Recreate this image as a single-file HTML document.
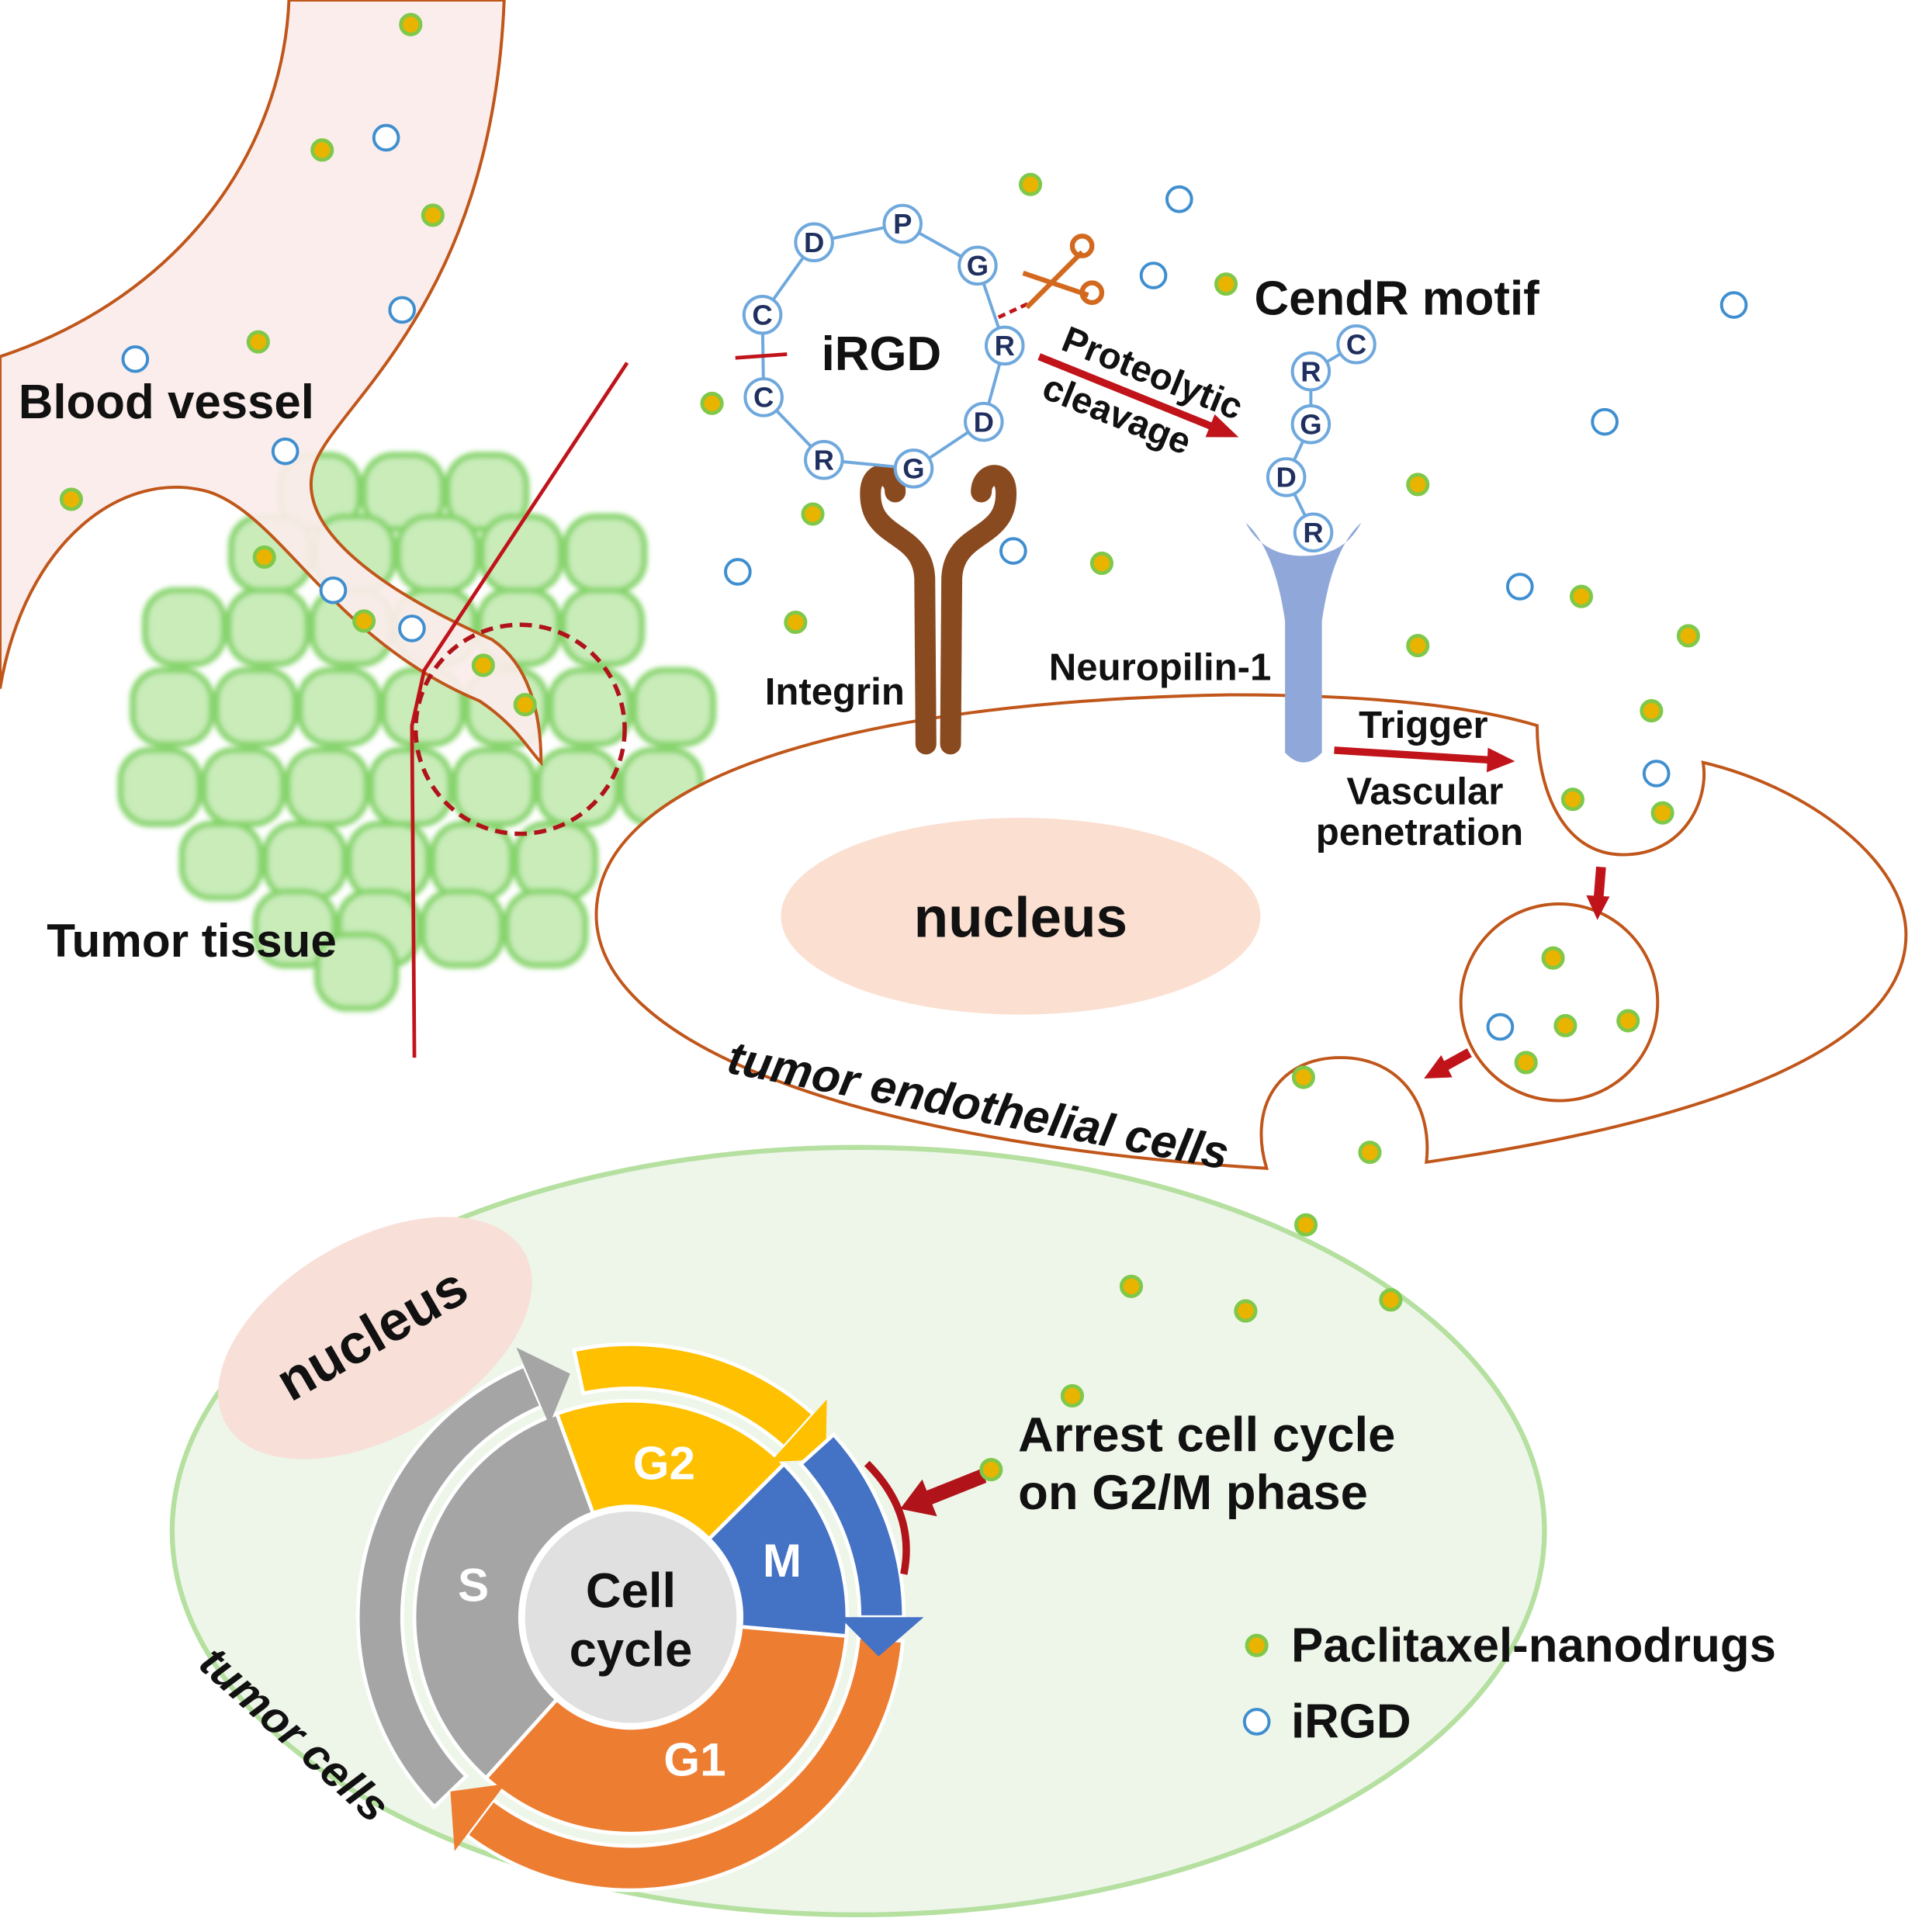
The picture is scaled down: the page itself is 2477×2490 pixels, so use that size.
<!DOCTYPE html>
<html><head><meta charset="utf-8"><style>
html,body{margin:0;padding:0;background:#fff;}
svg{display:block;}
text{font-family:"Liberation Sans",Arial,sans-serif;font-weight:bold;fill:#111;}
</style></head><body>
<svg id="s" width="2477" height="2490" viewBox="0 0 1563 1571" preserveAspectRatio="none" xmlns="http://www.w3.org/2000/svg">
<defs>
<filter id="bl" x="-20%" y="-20%" width="140%" height="140%"><feGaussianBlur stdDeviation="2"/></filter>
</defs>
<rect width="1563" height="1571" fill="#fff"/>
<g id="tumor" filter="url(#bl)"></g>
<path d="M235,0 C230,120 150,240 0,290 L0,560 C20,440 100,380 170,400 C230,420 270,520 390,570 C420,590 430,610 440,620 C440,580 430,540 400,520 C310,480 240,430 255,380 C270,330 400,250 410,0 Z" fill="#fbecea" fill-opacity="0.92" stroke="#c0561a" stroke-width="2.5"/>
<polyline points="510,295 345,545 335,590 337,860" fill="none" stroke="#c0141a" stroke-width="3"/>
<circle cx="423" cy="593" r="85" fill="none" stroke="#b0141a" stroke-width="3.5" stroke-dasharray="10,6"/>
<text x="15" y="340" font-size="39">Blood vessel</text>
<text x="38" y="778" font-size="38">Tumor tissue</text>

<!-- endothelial cell -->
<path d="M1030,950 C700,930 480,850 485,740 C490,630 700,570 1000,565 C1120,565 1200,575 1250,590 C1250,640 1270,695 1320,695 C1370,695 1390,650 1385,620 C1470,640 1550,700 1550,760 C1550,850 1400,910 1160,945 C1165,900 1140,860 1090,860 C1040,860 1015,900 1030,950 Z" fill="#fff" stroke="#c0561a" stroke-width="2.5"/>
<circle cx="1268" cy="815" r="80" fill="#fff" stroke="#c0561a" stroke-width="2.5"/>
<ellipse cx="830" cy="745" rx="195" ry="80" fill="#fbe0d2"/>
<text x="830" y="762" font-size="46" text-anchor="middle">nucleus</text>
<text x="590" y="872" font-size="38" font-style="italic" transform="rotate(11 590 872)">tumor endothelial cells</text>

<!-- integrin -->
<g fill="none" stroke="#8a4a1f" stroke-width="17" stroke-linecap="round">
<path d="M753,605 L752,470 C750,430 705,440 708,398 C710,380 728,385 728,400"/>
<path d="M773,605 L774,470 C776,430 821,440 818,398 C816,380 798,385 798,400"/>
</g>
<path d="M1013,425 C1030,440 1040,470 1045,505 L1045,612 Q1060,628 1075,612 L1075,505 C1080,470 1090,440 1107,425 C1095,448 1075,452 1060,452 C1045,452 1025,448 1013,425 Z" fill="#8fa8d9"/>
<text x="622" y="573" font-size="31">Integrin</text>
<text x="853" y="553" font-size="31">Neuropilin-1</text>
<text x="1020" y="256" font-size="39">CendR motif</text>
<text x="668" y="301" font-size="39">iRGD</text>
<g id="ring"></g>
<line x1="598" y1="291" x2="640" y2="288" stroke="#c0141a" stroke-width="3"/>
<line x1="812" y1="258" x2="838" y2="246" stroke="#c0141a" stroke-width="3" stroke-dasharray="6,4"/>
<!-- scissors -->
<g stroke="#d2691e" stroke-width="4" fill="none">
<line x1="832" y1="222" x2="885" y2="240"/><line x1="835" y1="250" x2="880" y2="205"/>
<circle cx="888" cy="238" r="8"/><circle cx="880" cy="200" r="8"/>
</g>
<g transform="rotate(22 845 290)">
<line x1="845" y1="290" x2="1000" y2="290" stroke="#c0141a" stroke-width="6"/>
<polygon points="995,280 1020,290 995,300" fill="#c0141a"/>
<text x="858" y="278" font-size="30">Proteolytic</text>
<text x="858" y="320" font-size="30">cleavage</text>
</g>
<line x1="1085" y1="610" x2="1212" y2="618" stroke="#c0141a" stroke-width="6"/>
<polygon points="1210,608 1232,619 1209,628" fill="#c0141a"/>
<text x="1105" y="600" font-size="31">Trigger</text>
<text x="1095" y="654" font-size="31">Vascular</text>
<text x="1070" y="687" font-size="31">penetration</text>
<line x1="1302" y1="705" x2="1300" y2="730" stroke="#c0141a" stroke-width="8"/>
<polygon points="1290,728 1299,748 1309,729" fill="#c0141a"/>
<line x1="1195" y1="856" x2="1175" y2="867" stroke="#c0141a" stroke-width="8"/>
<polygon points="1172,858 1158,877 1181,876" fill="#c0141a"/>

<!-- tumor cell -->
<ellipse cx="698" cy="1245" rx="558" ry="312" fill="#eef6ea" stroke="#b5e0a0" stroke-width="4"/>
<ellipse cx="305" cy="1088" rx="140" ry="80" transform="rotate(-30 305 1088)" fill="#f8e0d8"/>
<text x="310" y="1098" font-size="45" text-anchor="middle" transform="rotate(-30 310 1098)">nucleus</text>
<text x="160" y="1355" font-size="36" font-style="italic" transform="rotate(42 160 1355)">tumor cells</text>
<g id="cc"></g>
<circle cx="513" cy="1315" r="88" fill="#e0e0e0" stroke="#fff" stroke-width="4"/>
<text x="513" y="1307" font-size="40" text-anchor="middle">Cell</text>
<text x="513" y="1355" font-size="40" text-anchor="middle">cycle</text>
<text x="540" y="1203" font-size="38" text-anchor="middle" style="fill:#fff">G2</text>
<text x="636" y="1282" font-size="38" text-anchor="middle" style="fill:#fff">M</text>
<text x="385" y="1302" font-size="38" text-anchor="middle" style="fill:#fff">S</text>
<text x="565" y="1444" font-size="38" text-anchor="middle" style="fill:#fff">G1</text>
<path d="M705,1190 Q745,1230 735,1280" fill="none" stroke="#b0141a" stroke-width="6"/>
<line x1="800" y1="1200" x2="755" y2="1218" stroke="#b0141a" stroke-width="12"/>
<polygon points="750,1203 732,1227 762,1233" fill="#b0141a"/>
<text x="828" y="1180" font-size="40">Arrest cell cycle</text>
<text x="828" y="1227" font-size="40">on G2/M phase</text>
<text x="1050" y="1351" font-size="39">Paclitaxel-nanodrugs</text>
<text x="1050" y="1413" font-size="39">iRGD</text>
<g id="dots"></g>
</svg>
<script>
var NS="http://www.w3.org/2000/svg";
function el(p,t,a){var e=document.createElementNS(NS,t);for(var k in a)e.setAttribute(k,a[k]);p.appendChild(e);return e;}
var tg=document.getElementById('tumor');
var rows=[[400,260,440],[450,200,500],[510,150,540],[575,120,550],[640,130,540],[700,160,510],[755,240,470],[790,270,320]];
rows.forEach(function(r,i){for(var x=r[1]+(i%2)*20;x<=r[2];x+=68){el(tg,'rect',{x:x-32,y:r[0]-30,width:64,height:60,rx:24,fill:'#c9ecb9',stroke:'#86d46c','stroke-width':5});}});
var rg=document.getElementById('ring');
var ring=[['D',662,197],['P',734,182],['G',795,216],['R',817,281],['D',800,343],['G',743,381],['R',670,374],['C',621,323],['C',620,256]];
for(var i=0;i<ring.length;i++){var a=ring[i],b=ring[(i+1)%ring.length];el(rg,'line',{x1:a[1],y1:a[2],x2:b[1],y2:b[2],stroke:'#6fa8dc','stroke-width':2.5});}
var cendr=[['C',1103,280],['R',1066,302],['G',1066,345],['D',1046,388],['R',1068,433]];
for(var i=0;i<cendr.length-1;i++){var a=cendr[i],b=cendr[i+1];el(rg,'line',{x1:a[1],y1:a[2],x2:b[1],y2:b[2],stroke:'#6fa8dc','stroke-width':2.5});}
ring.concat(cendr).forEach(function(n){el(rg,'circle',{cx:n[1],cy:n[2],r:15,fill:'#fff',stroke:'#6fa8dc','stroke-width':2.5});var t=el(rg,'text',{x:n[1],y:n[2]+8,'font-size':23,'text-anchor':'middle',style:'fill:#1f2f5f'});t.textContent=n[0];});
var C=[513,1315],cc=document.getElementById('cc');
function P(r,d){var a=d*Math.PI/180;return [C[0]+r*Math.sin(a),C[1]-r*Math.cos(a)];}
function seg(r1,r2,a1,a2,col){var p1=P(r2,a1),p2=P(r2,a2),p3=P(r1,a2),p4=P(r1,a1),l=(a2-a1)>180?1:0;
el(cc,'path',{d:'M'+p1+' A'+r2+','+r2+' 0 '+l+' 1 '+p2+' L'+p3+' A'+r1+','+r1+' 0 '+l+' 0 '+p4+'Z',fill:col,stroke:'#fff','stroke-width':3});}
function arc(r1,r2,a1,a2,col){seg(r1,r2,a1,a2,col);var m=(r1+r2)/2,w=(r2-r1);var t=P(m,a2+9),o=P(r2+w*0.45,a2),i=P(r1-w*0.45,a2);
el(cc,'polygon',{points:o+' '+t+' '+i,fill:col});}
seg(90,176,-20,45,'#ffc000');seg(90,176,45,95,'#4472c4');seg(90,176,95,222,'#ed7d31');seg(90,176,222,340,'#a5a5a5');
arc(186,222,226,337,'#a5a5a5');arc(186,222,-12,42,'#ffc000');arc(186,222,95,217,'#ed7d31');arc(186,222,48,90,'#4472c4');
var dg=document.getElementById('dots');
[[334,20],[262,122],[352,175],[210,278],[58,406],[215,453],[296,505],[393,541],[427,573],[838,150],[997,231],[579,328],[661,418],[896,458],[647,506],[1153,394],[1286,485],[1373,517],[1153,525],[1343,578],[1279,650],[1352,661],[1263,779],[1273,834],[1324,830],[1241,864],[1060,876],[1114,937],[1062,996],[920,1046],[1013,1066],[1131,1057],[872,1135],[806,1195],[1022,1338]].forEach(function(d){el(dg,'circle',{cx:d[0],cy:d[1],r:8,fill:'#e8b400',stroke:'#7fc84a','stroke-width':3});});
[[314,112],[327,252],[110,292],[232,367],[271,480],[335,511],[959,162],[938,224],[1410,248],[1305,343],[824,448],[600,465],[1236,477],[1347,629],[1220,835],[1022,1400]].forEach(function(d){el(dg,'circle',{cx:d[0],cy:d[1],r:10,fill:'#fff',stroke:'#3f8fd0','stroke-width':2.5});});
</script>
</body></html>
